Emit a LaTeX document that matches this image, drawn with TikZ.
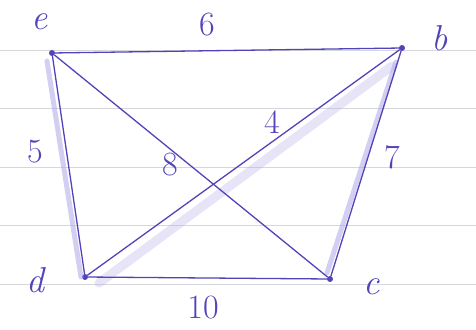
\documentclass[tikz,border=0pt]{standalone}
\usepackage{fontspec}
\usetikzlibrary{calc}
\begin{document}
\begin{tikzpicture}[x=1pt,y=-1pt,
  ink/.style={draw=inkc,line width=1.3pt,line cap=round},
  hl/.style={draw=hlc,line width=5pt,line cap=round,opacity=0.55},
  vtx/.style={circle,fill=inkc,inner sep=0pt,minimum size=6pt},
  lbl/.style={text=inkc,font=\fontsize{36}{40}\selectfont\itshape,inner sep=0pt},
  num/.style={text=inkc,font=\fontsize{34}{40}\selectfont,inner sep=0pt}]
\definecolor{inkc}{HTML}{5244B8}
\definecolor{hlc}{HTML}{B0A8E8}
\definecolor{rule}{HTML}{D4D8DC}
\useasboundingbox[fill=white] (0,0) rectangle (476,329);
\foreach \yy in {50,108.5,167,225.5,284}
  \draw[rule,line width=0.8pt] (0,\yy) -- (476,\yy);
% vertices
\node[vtx] (e) at (52,53) {};
\node[vtx] (b) at (402,48) {};
\node[vtx] (d) at (85,277) {};
\node[vtx] (c) at (330,279) {};
% highlight strokes
\draw[hl] ($(e.center)+(-5,8)$) -- ($(d.center)+(-4,0)$);
\draw[hl] ($(b.center)+(-6,14)$) -- ($(c.center)+(-3,-6)$);
\draw[hl,line width=9pt,opacity=0.3] ($(b.center)+(-10,18)$) -- ($(d.center)+(14,6)$);
% edges
\draw[ink] (e) -- (b);
\draw[ink] (e) -- (d);
\draw[ink] (e) -- (c);
\draw[ink] (d) -- (b);
\draw[ink] (b) -- (c);
\draw[ink] (d) -- (c);
% vertex labels
\node[lbl] (le) at (40,22) {e};
\node[lbl] (lb) at (440,38) {b};
\node[lbl] (ld) at (35,280) {d};
\node[lbl] (lc) at (372,287) {c};
% edge labels
\node[num] (n6) at (207,25) {6};
\node[num] (n5) at (35,152) {5};
\node[num] (n8) at (170,165) {8};
\node[num] (n4) at (272,122) {4};
\node[num] (n7) at (392,157) {7};
\node[num] (n10) at (203,308) {10};
\end{tikzpicture}
\end{document}
